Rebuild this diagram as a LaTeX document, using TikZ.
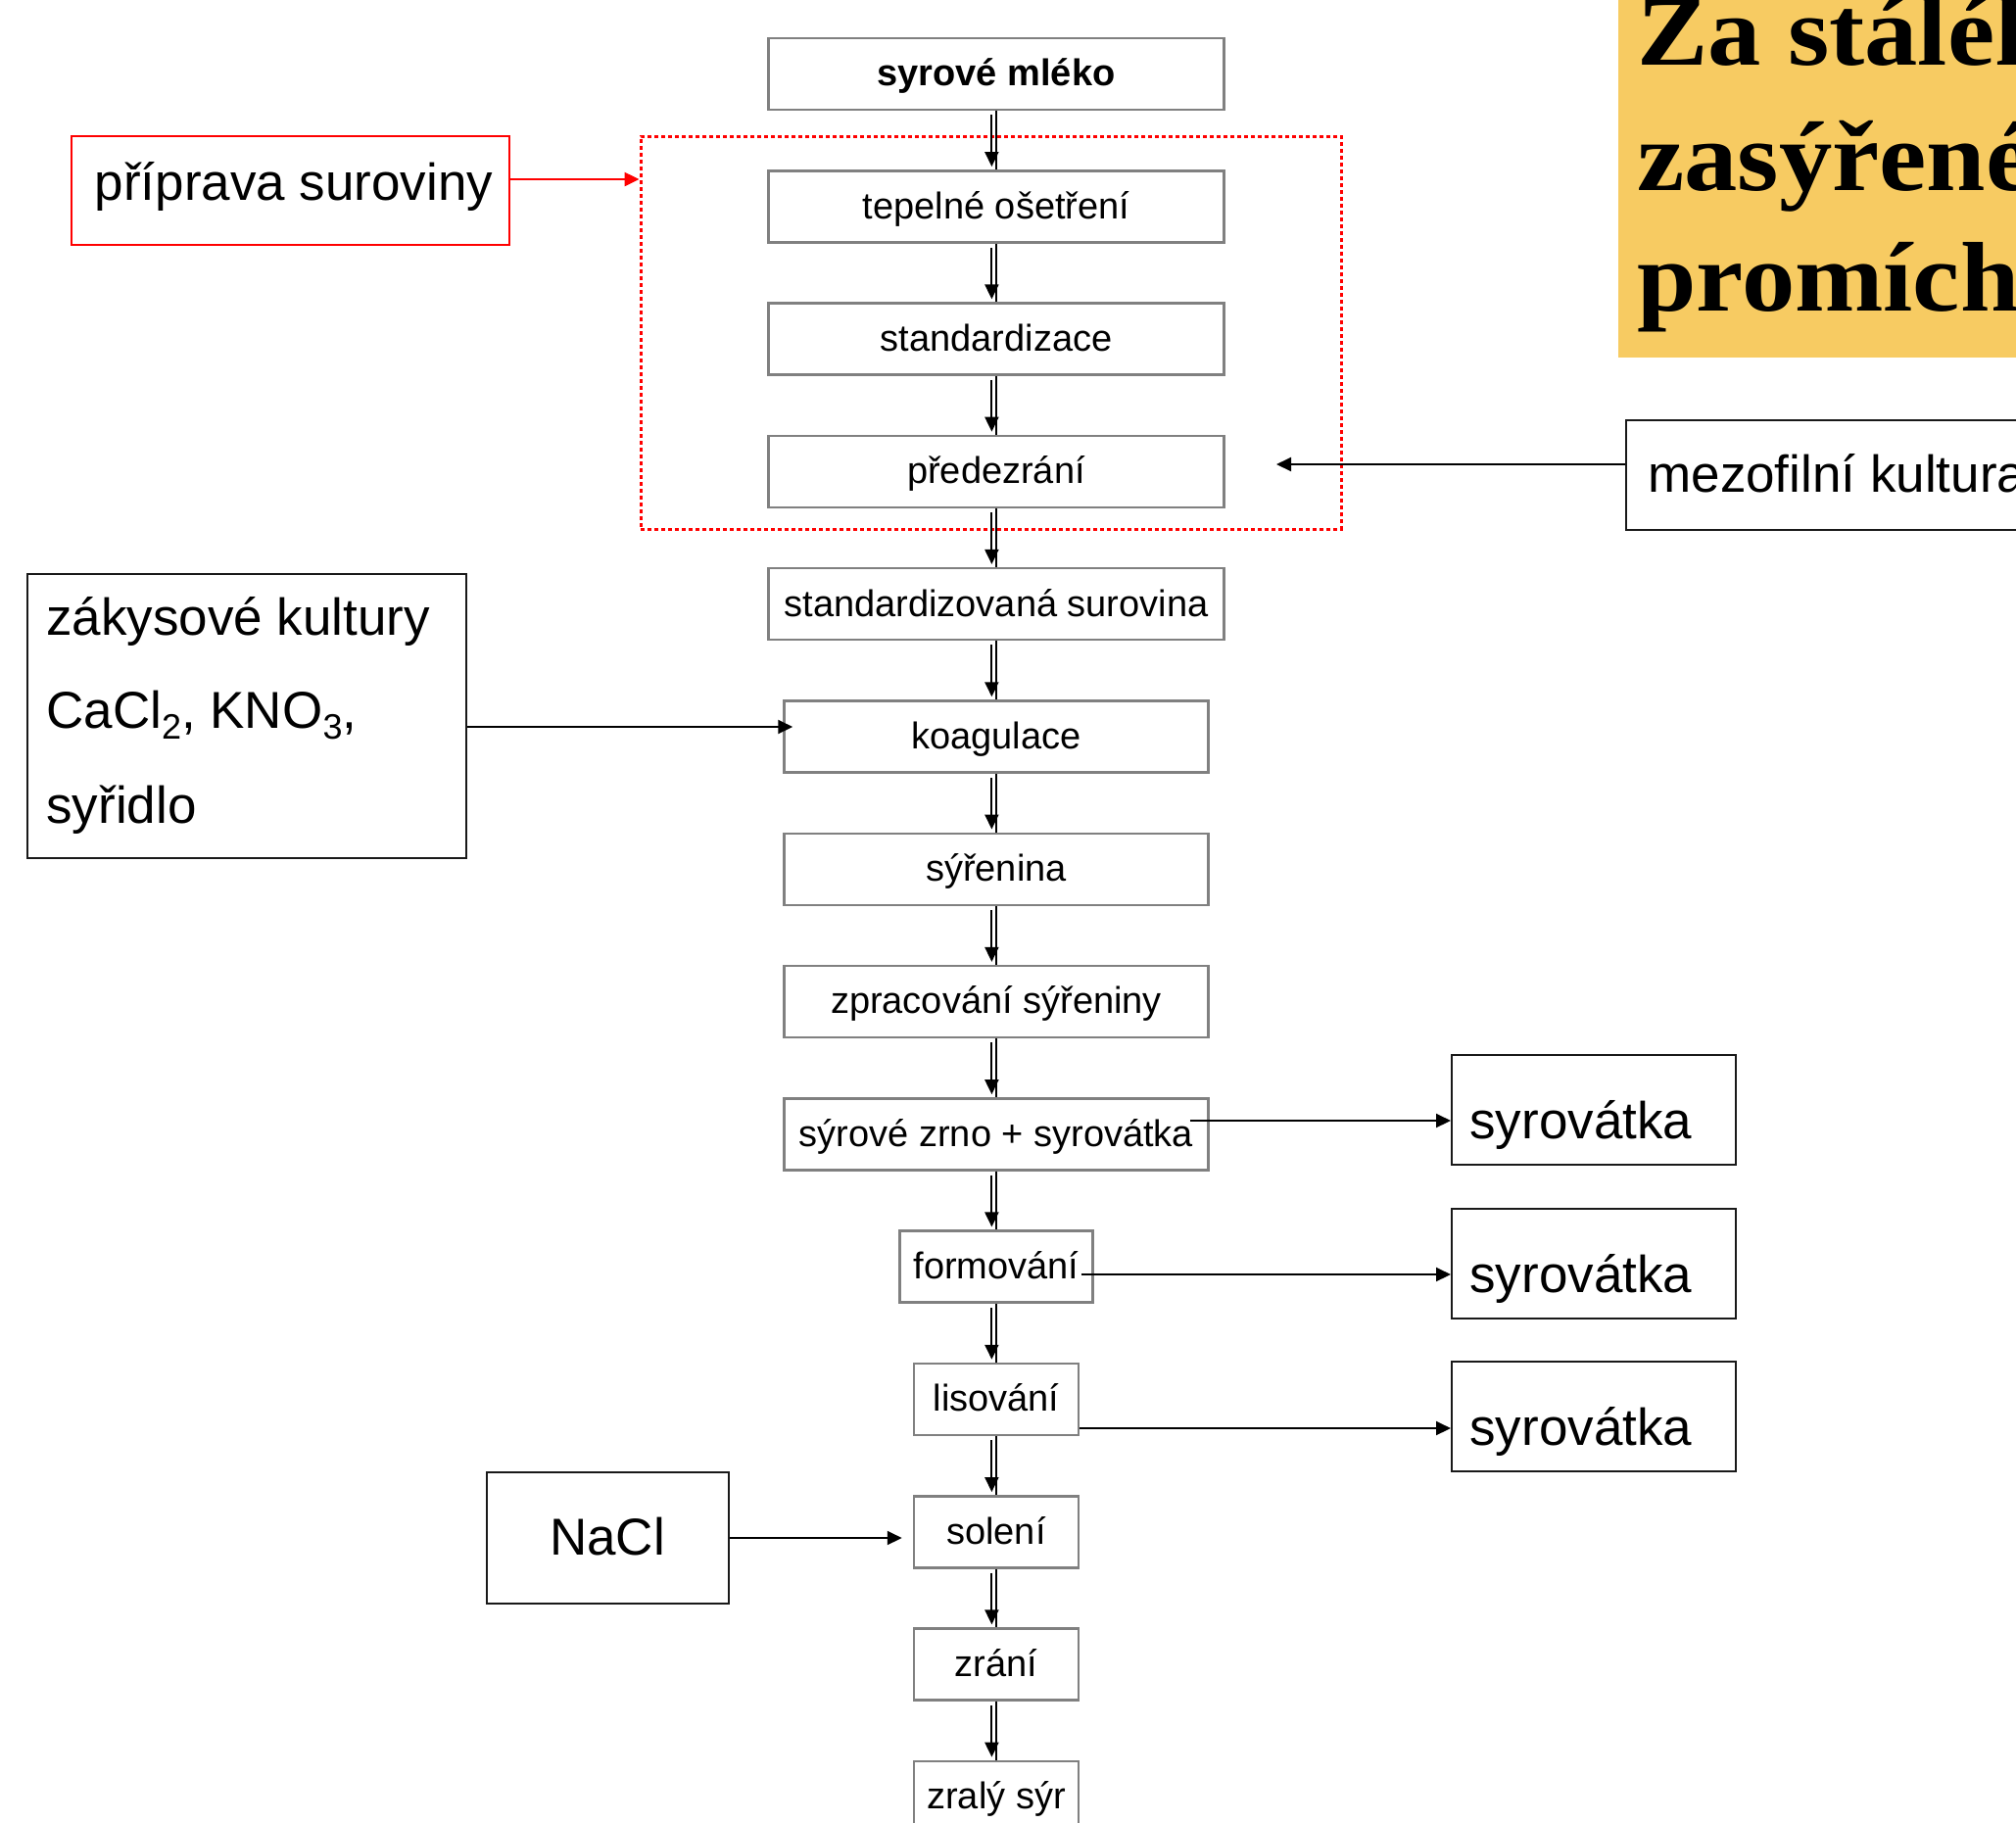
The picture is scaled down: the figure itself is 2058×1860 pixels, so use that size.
\documentclass[tikz,border=0pt]{standalone}
\usepackage{fontspec}
\setmainfont{Liberation Sans}
\newfontfamily\titlefont{Liberation Serif}
\usetikzlibrary{arrows.meta}
\definecolor{ttlyellow}{RGB}{247,203,98}
\definecolor{boxgray}{RGB}{128,128,128}
\definecolor{pureRed}{RGB}{255,0,0}
\newcommand{\chemsub}[1]{\raisebox{-0.22em}{\fontsize{18pt}{18pt}\selectfont #1}}
\begin{document}
\begin{tikzpicture}[x=0.5pt,y=-0.5pt,
  cbox/.style={draw=boxgray, line width=1.25pt, minimum height=36.5pt, inner sep=0pt,
    font=\fontsize{19pt}{22pt}\selectfont, text height=15.3pt, text depth=3pt},
  wbox/.style={cbox, minimum width=232.5pt},
  mbox/.style={cbox, minimum width=216.5pt},
  nbox/.style={cbox, minimum width=84pt},
  sbox/.style={draw=black!90, line width=1pt, inner sep=0pt},
  stext/.style={inner sep=0pt, font=\fontsize{26.5pt}{30pt}\selectfont},
  ttext/.style={anchor=base west, inner sep=0pt, font=\titlefont\bfseries\fontsize{50.5pt}{56pt}\selectfont},
  conn/.style={line width=1pt, draw=black},
  arrowtip/.style={-{Triangle[length=7.5pt,width=7pt]}}
]
\useasboundingbox (0,0) rectangle (2058,1860);
\clip (0,0) rectangle (2058,1860);

% title block (cut by the right edge)
\node[fill=ttlyellow, inner sep=0pt, minimum width=220pt, minimum height=182.5pt, anchor=north west] (ttlbg) at (1652,0) {};
\node[ttext] (t1) at (1671,66) {\scalebox{1.075}[1]{Za stálého}};
\node[ttext] (t2) at (1671,194) {\scalebox{1.075}[1]{zasýřeného}};
\node[ttext] (t3) at (1671,317) {\scalebox{1.075}[1]{promíchávání}};

% dotted frame
\node[draw=pureRed, line width=1.5pt, dash pattern=on 2pt off 1.5pt, minimum width=357.5pt, minimum height=200.5pt, inner sep=0pt] (prep) at (1011.5,339.5) {};

% main column
\node[wbox, font=\bfseries\fontsize{19pt}{22pt}\selectfont] (n0) at (1017,75.5) {syrové mléko};
\node[wbox] (n1) at (1017,210.8) {tepelné ošetření};
\node[wbox] (n2) at (1017,346.1) {standardizace};
\node[wbox] (n3) at (1017,481.4) {předezrání};
\node[wbox] (n4) at (1017,616.7) {standardizovaná surovina};
\node[mbox] (n5) at (1017,752) {koagulace};
\node[mbox] (n6) at (1017,887.3) {sýřenina};
\node[mbox] (n7) at (1017,1022.6) {zpracování sýřeniny};
\node[mbox] (n8) at (1017,1157.9) {sýrové zrno + syrovátka};
\node[cbox, minimum width=98.5pt] (n9) at (1017,1293.2) {formování};
\node[nbox] (n10) at (1017,1428.5) {lisování};
\node[nbox] (n11) at (1017,1563.8) {solení};
\node[nbox] (n12) at (1017,1699.1) {zrání};
\node[nbox] (n13) at (1017,1834.4) {zralý sýr};

\foreach \a/\b in {n0/n1,n1/n2,n2/n3,n3/n4,n4/n5,n5/n6,n6/n7,n7/n8,n8/n9,n9/n10,n10/n11,n11/n12,n12/n13}{
  \draw[conn] (\a.south) -- (\b.north);
  \draw[conn, arrowtip, shorten >=1.5pt] ([xshift=-2.3pt,yshift=-2pt]\a.south) -- ([xshift=-2.3pt]\b.north);
}

% side boxes
\node[sbox, draw=pureRed, line width=1.25pt, minimum width=223.5pt, minimum height=55.5pt] (pripr) at (296.5,194.5) {};
\node[stext, anchor=base] (priprt) at (300,204) {příprava suroviny};

\node[sbox, minimum width=220pt, minimum height=56pt] (mezo) at (1880,485) {};
\node[stext, anchor=base west] (mezot) at (1682,502) {mezofilní kultura};

\node[sbox, minimum width=224pt, minimum height=145pt] (zakys) at (252,731) {};
\node[stext, anchor=base west] (zak1) at (47,648) {zákysové kultury};
\node[stext, anchor=base west] (zak2) at (47,743) {CaCl\chemsub{2}, KNO\chemsub{3},};
\node[stext, anchor=base west] (zak3) at (47,840) {syřidlo};

\node[sbox, minimum width=123.5pt, minimum height=67pt] (nacl) at (620.5,1570) {};
\node[stext, anchor=base] (naclt) at (620,1587) {NaCl};

\node[sbox, minimum width=145pt, minimum height=56pt] (syr1) at (1627,1133) {};
\node[stext, anchor=base west] (syr1t) at (1500,1162) {syrovátka};
\node[sbox, minimum width=145pt, minimum height=56pt] (syr2) at (1627,1290) {};
\node[stext, anchor=base west] (syr2t) at (1500,1319) {syrovátka};
\node[sbox, minimum width=145pt, minimum height=56pt] (syr3) at (1627,1446) {};
\node[stext, anchor=base west] (syr3t) at (1500,1475) {syrovátka};

% side connectors
\coordinate (pa) at ([yshift=5.75pt]pripr.east);
\draw[conn, draw=pureRed, line width=1.25pt, -{Triangle[length=7.5pt,width=7pt]}, color=pureRed] (pa) -- (pa -| prep.west);

\coordinate (ma) at ([yshift=5.5pt]mezo.west);
\coordinate (mend) at (1303,474);
\draw[conn, arrowtip] (ma) -- (mend);

\coordinate (za) at ([yshift=-5.5pt]zakys.east);
\draw[conn, arrowtip, shorten >=-5pt] (za) -- (za -| n5.west);

\draw[conn, arrowtip, shorten >=5.5pt] (nacl.east) -- (nacl.east -| n11.west);

\coordinate (s1) at ([yshift=-5.5pt]syr1.west);
\draw[conn, arrowtip, shorten <=-10pt] (s1 -| n8.east) -- (s1);
\coordinate (s2) at ([yshift=-5.5pt]syr2.west);
\draw[conn, arrowtip, shorten <=-6.5pt] (s2 -| n9.east) -- (s2);
\coordinate (s3) at ([yshift=-6pt]syr3.west);
\draw[conn, arrowtip] (s3 -| n10.east) -- (s3);
\end{tikzpicture}
\end{document}
